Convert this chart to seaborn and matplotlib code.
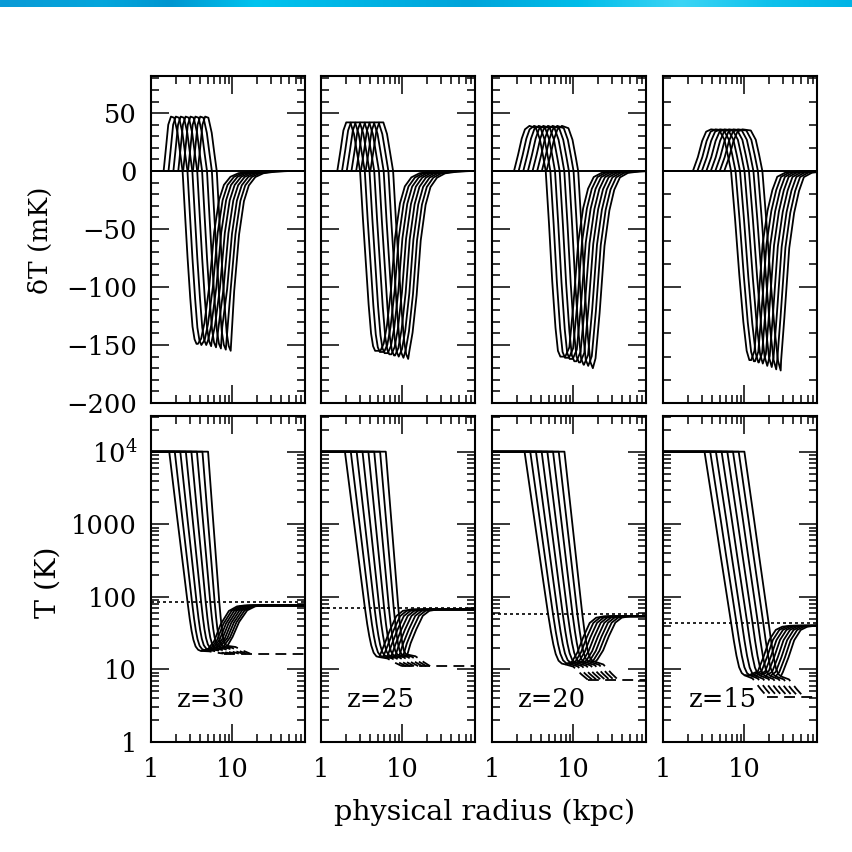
import numpy as np
import pandas as pd
import matplotlib
matplotlib.use("Agg")
import matplotlib.pyplot as plt
import seaborn as sns
from matplotlib.ticker import (MultipleLocator, FixedLocator, FixedFormatter,
                               NullFormatter, LogLocator)

# ---------------------------------------------------------------- data
REDSHIFT = [30, 25, 20, 15]
R_LIM = (1.0, 78.0)
DT_LIM = (-200.0, 82.0)
T_LIM = (1.0, 3.1e4)
T_HOT = 1.0e4
T_CMB = [84.5, 70.85, 57.2, 43.6]          # dotted line
T_SPIN_FAR = [76.0, 67.0, 54.0, 40.0]      # solid plateau far out
T_IGM = [16.5, 11.1, 7.2, 4.2]             # dashed floor

# top row: hump + fall profile (log10 r offset, mK)
DT_HUMP_DLOGR = [
    [0, 0.029, 0.057, 0.09, 0.13, 0.171, 0.204, 0.233, 0.265, 0.294, 0.327, 0.355, 0.38, 0.404],
    [0, 0.04, 0.075, 0.11, 0.16, 0.205, 0.245, 0.28, 0.315, 0.35, 0.385, 0.415, 0.44, 0.465],
    [0, 0.05, 0.095, 0.135, 0.19, 0.27, 0.32, 0.36, 0.39, 0.43, 0.47, 0.51, 0.54, 0.57],
    [0, 0.061, 0.114, 0.163, 0.224, 0.327, 0.388, 0.429, 0.469, 0.518, 0.571, 0.62, 0.661, 0.694],
]
DT_HUMP_VAL = [
    [0, 20, 40, 47, 46, 33, 15, 0, -40, -75, -110, -135, -146, -150],
    [0, 18, 35, 42, 42, 32, 15, 0, -41, -78, -115, -140, -151, -155],
    [0, 14, 28, 36, 39, 37, 27, 12, 0, -45, -95, -135, -155, -160],
    [0, 12, 26, 34, 36, 35, 27, 14, 0, -41, -90, -130, -155, -163],
]
DT_START = [   # log10 r where each curve leaves zero
    [0.155, 0.215, 0.275, 0.335, 0.395, 0.455, 0.515, 0.575],
    [0.200, 0.258, 0.316, 0.374, 0.432, 0.490, 0.548, 0.606],
    [0.270, 0.327, 0.384, 0.441, 0.498, 0.555, 0.612, 0.669],
    [0.367, 0.422, 0.477, 0.532, 0.587, 0.642, 0.697, 0.752],
]
DT_DEPTH = [
    [149, 150, 150, 151, 152, 153, 154, 155],
    [155, 156, 157, 158, 159, 160, 161, 162],
    [160, 161, 162, 164, 165, 167, 168, 170],
    [163, 164, 165, 166, 168, 169, 171, 172],
]
DT_RISE_DLOGR = [
    [-0.20, -0.16, -0.12, -0.06, 0, 0.06, 0.12, 0.2, 0.3, 0.45, 0.6],
    [-0.18, -0.14, -0.10, -0.05, 0, 0.06, 0.12, 0.2, 0.3, 0.45, 0.6],
    [-0.16, -0.11, -0.06, 0, 0.06, 0.12, 0.19, 0.29, 0.43, 0.56],
    [-0.14, -0.10, -0.06, 0, 0.06, 0.12, 0.18, 0.28, 0.42, 0.55],
]
DT_RISE_FRAC = [
    [1.0, 0.97, 0.88, 0.667, 0.353, 0.167, 0.08, 0.033, 0.012, 0.003, 0.0],
    [1.0, 0.96, 0.86, 0.66, 0.37, 0.18, 0.085, 0.035, 0.012, 0.003, 0.0],
    [1.0, 0.95, 0.72, 0.38, 0.2, 0.095, 0.032, 0.009, 0.002, 0.0],
    [1.0, 0.95, 0.736, 0.386, 0.21, 0.10, 0.03, 0.008, 0.002, 0.0],
]
DT_RISE = [   # log10 r of the recovering branch of each curve
    [0.776, 0.820, 0.863, 0.907, 0.951, 0.995, 1.038, 1.082],
    [0.910, 0.955, 1.000, 1.045, 1.090, 1.135, 1.180, 1.225],
    [1.060, 1.106, 1.152, 1.198, 1.244, 1.290, 1.336, 1.382],
    [1.224, 1.271, 1.318, 1.364, 1.411, 1.458, 1.504, 1.551],
]

# bottom row: temperature profiles
T_PLATEAU_END = [
    [0.224, 0.292, 0.360, 0.428, 0.496, 0.564, 0.632, 0.701],
    [0.294, 0.366, 0.438, 0.510, 0.582, 0.654, 0.726, 0.796],
    [0.400, 0.470, 0.540, 0.610, 0.680, 0.750, 0.820, 0.890],
    [0.510, 0.580, 0.650, 0.720, 0.790, 0.860, 0.930, 1.000],
]
T_FALL_WIDTH = [
    [0.225, 0.212, 0.200, 0.188, 0.176, 0.164, 0.150, 0.138],
    [0.245, 0.232, 0.219, 0.206, 0.193, 0.180, 0.167, 0.154],
    [0.290, 0.280, 0.270, 0.260, 0.250, 0.240, 0.230, 0.220],
    [0.327, 0.323, 0.319, 0.315, 0.310, 0.306, 0.302, 0.298],
]
T_FALL_U = [
    [0, 0.2, 0.4, 0.6, 0.8, 1.0, 1.12, 1.22, 1.32, 1.44, 1.58, 1.72],
    [0, 0.2, 0.4, 0.6, 0.8, 1.0, 1.12, 1.22, 1.32, 1.44, 1.58, 1.72],
    [0, 0.2, 0.4, 0.6, 0.8, 1.0, 1.12, 1.22, 1.32, 1.44, 1.58, 1.72],
    [0, 0.2, 0.4, 0.6, 0.8, 1.0, 1.1, 1.2, 1.3, 1.4, 1.5],
]
T_FALL_LOGT = [
    [4.0, 3.58, 3.16, 2.75, 2.34, 1.927, 1.70, 1.54, 1.42, 1.33, 1.285, 1.27],
    [4.0, 3.57, 3.14, 2.71, 2.28, 1.85, 1.62, 1.46, 1.33, 1.23, 1.18, 1.17],
    [4.0, 3.55, 3.10, 2.65, 2.20, 1.757, 1.52, 1.35, 1.22, 1.13, 1.09, 1.08],
    [4.0, 3.53, 3.06, 2.58, 2.11, 1.639, 1.40, 1.19, 1.03, 0.95, 0.92],
]
T_LOGMIN = [
    [1.255, 1.265, 1.275, 1.285, 1.295, 1.305, 1.315, 1.325],
    [1.170, 1.175, 1.180, 1.185, 1.190, 1.195, 1.200, 1.205],
    [1.070, 1.075, 1.080, 1.085, 1.090, 1.095, 1.100, 1.105],
    [0.920, 0.920, 0.915, 0.915, 0.910, 0.910, 0.905, 0.905],
]
T_RISE_DLOGR = [
    [-0.25, -0.16, -0.08, 0, 0.1, 0.2, 0.29],
    [-0.22, -0.14, -0.07, 0, 0.08, 0.16, 0.26],
    [-0.22, -0.14, -0.07, 0, 0.08, 0.16, 0.26],
    [-0.25, -0.14, -0.07, 0, 0.08, 0.16, 0.26],
]
T_RISE_FRAC = [
    [0, 0.03, 0.22, 0.59, 0.88, 0.98, 1.0],
    [0, 0.05, 0.25, 0.56, 0.86, 0.97, 1.0],
    [0, 0.05, 0.25, 0.56, 0.86, 0.97, 1.0],
    [0, 0.08, 0.375, 0.713, 0.916, 0.98, 1.0],
]
T_RISE = [
    [0.857, 0.890, 0.922, 0.954, 0.986, 1.018, 1.050, 1.082],
    [0.845, 0.892, 0.938, 0.985, 1.031, 1.078, 1.124, 1.171],
    [1.120, 1.165, 1.210, 1.255, 1.300, 1.345, 1.390, 1.435],
    [1.306, 1.350, 1.394, 1.437, 1.481, 1.525, 1.568, 1.612],
]
DASH_DLOGR = [0, 0.1, 0.2, 0.28]
DASH_FRAC = [0, 0.15, 0.65, 1.0]

N_CURVES = 8
X_TICK_LABELS = ["1", "10"]
DT_TICKS = [-200, -150, -100, -50, 0, 50]
DT_TICK_LABELS = ["\u2212200", "\u2212150", "\u2212100", "\u221250", "0", "50"]
T_TICKS = [1, 10, 100, 1000, 1e4]
T_TICK_LABELS = ["1", "10", "100", "1000", r"$10^{4}$"]

# ---------------------------------------------------------------- helpers
LXMAX = np.log10(R_LIM[1])


def top_frame(p):
    rows = []
    for i in range(N_CURVES):
        hx = np.array(DT_HUMP_DLOGR[p]) + DT_START[p][i]
        hv = np.array(DT_HUMP_VAL[p], dtype=float)
        ref = -hv.min()
        hv = np.where(hv < 0, hv * DT_DEPTH[p][i] / ref, hv)
        rx = np.array(DT_RISE_DLOGR[p]) + DT_RISE[p][i]
        rv = -np.array(DT_RISE_FRAC[p]) * DT_DEPTH[p][i]
        keep = rx > hx[-1] + 0.004
        lx = np.concatenate([[0.0], hx, rx[keep], [LXMAX]])
        v = np.concatenate([[0.0], hv, rv[keep], [0.0]])
        for k, (a, b) in enumerate(zip(lx, v)):
            rows.append((i, k, 10 ** a, b))
    return pd.DataFrame(rows, columns=["curve", "order", "r", "dT"])


def bottom_frames(p):
    solid, dashed = [], []
    lc = np.log10(T_CMB[p])
    lp = np.log10(T_SPIN_FAR[p])
    lig = np.log10(T_IGM[p])
    for i in range(N_CURVES):
        a = T_PLATEAU_END[p][i]
        w = T_FALL_WIDTH[p][i]
        fx = a + np.array(T_FALL_U[p]) * w
        lt = np.array(T_FALL_LOGT[p])
        lmin_t = lt.min()
        lmin = T_LOGMIN[p][i]
        lt = np.where(lt < lc, lc - (lc - lt) * (lc - lmin) / (lc - lmin_t), lt)
        rx = np.array(T_RISE_DLOGR[p]) + T_RISE[p][i]
        rl = lmin + np.array(T_RISE_FRAC[p]) * (lp - lmin)
        keep = rx > fx[-1] + 0.004
        lx = np.concatenate([[0.0], fx, rx[keep], [LXMAX]])
        ll = np.concatenate([[4.0], lt, rl[keep], [lp]])
        for k, (x, y) in enumerate(zip(lx, ll)):
            solid.append((i, k, 10 ** x, 10 ** y))
        dx = fx[-1] + np.array(DASH_DLOGR)
        dl = lmin + np.array(DASH_FRAC) * (lig - lmin)
        for k, (x, y) in enumerate(zip(dx, dl)):
            dashed.append((i, k, 10 ** x, 10 ** y))
    cols = ["curve", "order", "r", "T"]
    return pd.DataFrame(solid, columns=cols), pd.DataFrame(dashed, columns=cols)


# ---------------------------------------------------------------- style
sns.set_style("ticks")
plt.rcParams["font.family"] = ["DejaVu Serif"]
plt.rcParams["mathtext.fontset"] = "dejavuserif"
plt.rcParams["text.color"] = "black"
plt.rcParams["axes.labelcolor"] = "black"
plt.rcParams["axes.linewidth"] = 1.4
FS_TICK = 18.5
FS_LABEL = 20.5

fig = plt.figure(figsize=(8.52, 8.52), dpi=100)
W = H = 852.0

# header bar
stops_x = [0.0, 0.12, 0.2, 0.3, 0.45, 0.55, 0.68, 0.8, 0.9, 1.0]
stops_c = ["#0a9ad6", "#04a6dc", "#0096d0", "#00c4ef", "#00b0e2",
           "#00a4da", "#00bde9", "#3cd5f5", "#10c2ec", "#00b4e6"]
rgb = np.array([matplotlib.colors.to_rgb(c) for c in stops_c])
gx = np.linspace(0, 1, 852)
grad = np.stack([np.interp(gx, stops_x, rgb[:, j]) for j in range(3)], axis=-1)[None, :, :]
hax = fig.add_axes([0, 1 - 7 / H, 1, 7 / H])
hax.imshow(grad, aspect="auto", extent=(0, 1, 0, 1))
hax.axis("off")

COL_LEFT = [151, 321, 492, 663]
PW = 154
TOP_ROW = (76, 403)
BOT_ROW = (416, 742)
LW = 1.3


def style_axis(ax):
    ax.tick_params(which="both", direction="in", top=True, right=True,
                   width=1.1, colors="black", labelsize=FS_TICK)
    ax.tick_params(which="major", length=13)
    ax.tick_params(which="minor", length=5.8)
    ax.tick_params(axis="y", pad=10)
    ax.tick_params(axis="x", pad=11)
    for s in ax.spines.values():
        s.set_linewidth(1.5)
        s.set_color("black")


for p in range(4):
    # ---------------- top panel
    x0 = COL_LEFT[p] / W
    ax = fig.add_axes([x0, 1 - TOP_ROW[1] / H, PW / W, (TOP_ROW[1] - TOP_ROW[0]) / H])
    df = top_frame(p)
    sns.lineplot(data=df, x="r", y="dT", units="curve", estimator=None, sort=False,
                 color="black", linewidth=LW, ax=ax, legend=False)
    ax.axhline(0, color="black", lw=1.4)
    ax.set_xscale("log")
    ax.set_xlim(*R_LIM)
    ax.set_ylim(*DT_LIM)
    ax.xaxis.set_major_locator(FixedLocator([1, 10]))
    ax.xaxis.set_minor_locator(LogLocator(base=10, subs=np.arange(2, 10)))
    ax.xaxis.set_major_formatter(NullFormatter())
    ax.xaxis.set_minor_formatter(NullFormatter())
    if p == 3:
        ax.yaxis.set_major_locator(MultipleLocator(100))
        ax.yaxis.set_minor_locator(MultipleLocator(20))
    else:
        ax.yaxis.set_major_locator(MultipleLocator(50))
        ax.yaxis.set_minor_locator(MultipleLocator(10))
    if p == 0:
        ax.yaxis.set_major_locator(FixedLocator(DT_TICKS))
        ax.yaxis.set_major_formatter(FixedFormatter(DT_TICK_LABELS))
    else:
        ax.yaxis.set_major_formatter(NullFormatter())
    ax.set_xlabel("")
    ax.set_ylabel("")
    style_axis(ax)

    # ---------------- bottom panel
    bx = fig.add_axes([x0, 1 - BOT_ROW[1] / H, PW / W, (BOT_ROW[1] - BOT_ROW[0]) / H])
    sdf, ddf = bottom_frames(p)
    bx.axhline(T_CMB[p], color="black", lw=1.2, ls=(0, (1.8, 1.8)))
    sns.lineplot(data=sdf, x="r", y="T", units="curve", estimator=None, sort=False,
                 color="black", linewidth=LW, ax=bx, legend=False)
    sns.lineplot(data=ddf, x="r", y="T", units="curve", estimator=None, sort=False,
                 color="black", linewidth=LW, ax=bx, legend=False)
    for line in bx.get_lines()[-N_CURVES:]:
        line.set_dashes((6, 3.5))
    bx.plot([ddf.groupby("curve")["r"].max().min(), R_LIM[1]], [T_IGM[p], T_IGM[p]],
            color="black", lw=LW, dashes=(6, 3.5))
    bx.set_xscale("log")
    bx.set_yscale("log")
    bx.set_xlim(*R_LIM)
    bx.set_ylim(*T_LIM)
    bx.xaxis.set_major_locator(FixedLocator([1, 10]))
    bx.xaxis.set_minor_locator(LogLocator(base=10, subs=np.arange(2, 10)))
    bx.xaxis.set_major_formatter(FixedFormatter(X_TICK_LABELS))
    bx.xaxis.set_minor_formatter(NullFormatter())
    bx.yaxis.set_major_locator(FixedLocator(T_TICKS))
    bx.yaxis.set_minor_locator(LogLocator(base=10, subs=np.arange(2, 10)))
    bx.yaxis.set_minor_formatter(NullFormatter())
    if p == 0:
        bx.yaxis.set_major_formatter(FixedFormatter(T_TICK_LABELS))
    else:
        bx.yaxis.set_major_formatter(NullFormatter())
    bx.set_xlabel("")
    bx.set_ylabel("")
    style_axis(bx)
    bx.text(0.167, 0.129, f"z={REDSHIFT[p]}", transform=bx.transAxes,
            fontsize=FS_TICK, ha="left", va="center", color="black")

fig.text(40 / W, 1 - 240 / H, "\u03b4T (mK)", rotation=90, ha="center", va="center",
         fontsize=FS_LABEL - 1.5, color="black")
fig.text(48 / W, 1 - 582 / H, "T (K)", rotation=90, ha="center", va="center",
         fontsize=FS_LABEL, color="black")
fig.text(485 / W, 1 - 812 / H, "physical radius (kpc)", ha="center", va="center",
         fontsize=FS_LABEL, color="black")

fig.savefig("out.png", dpi=100, facecolor="white")
